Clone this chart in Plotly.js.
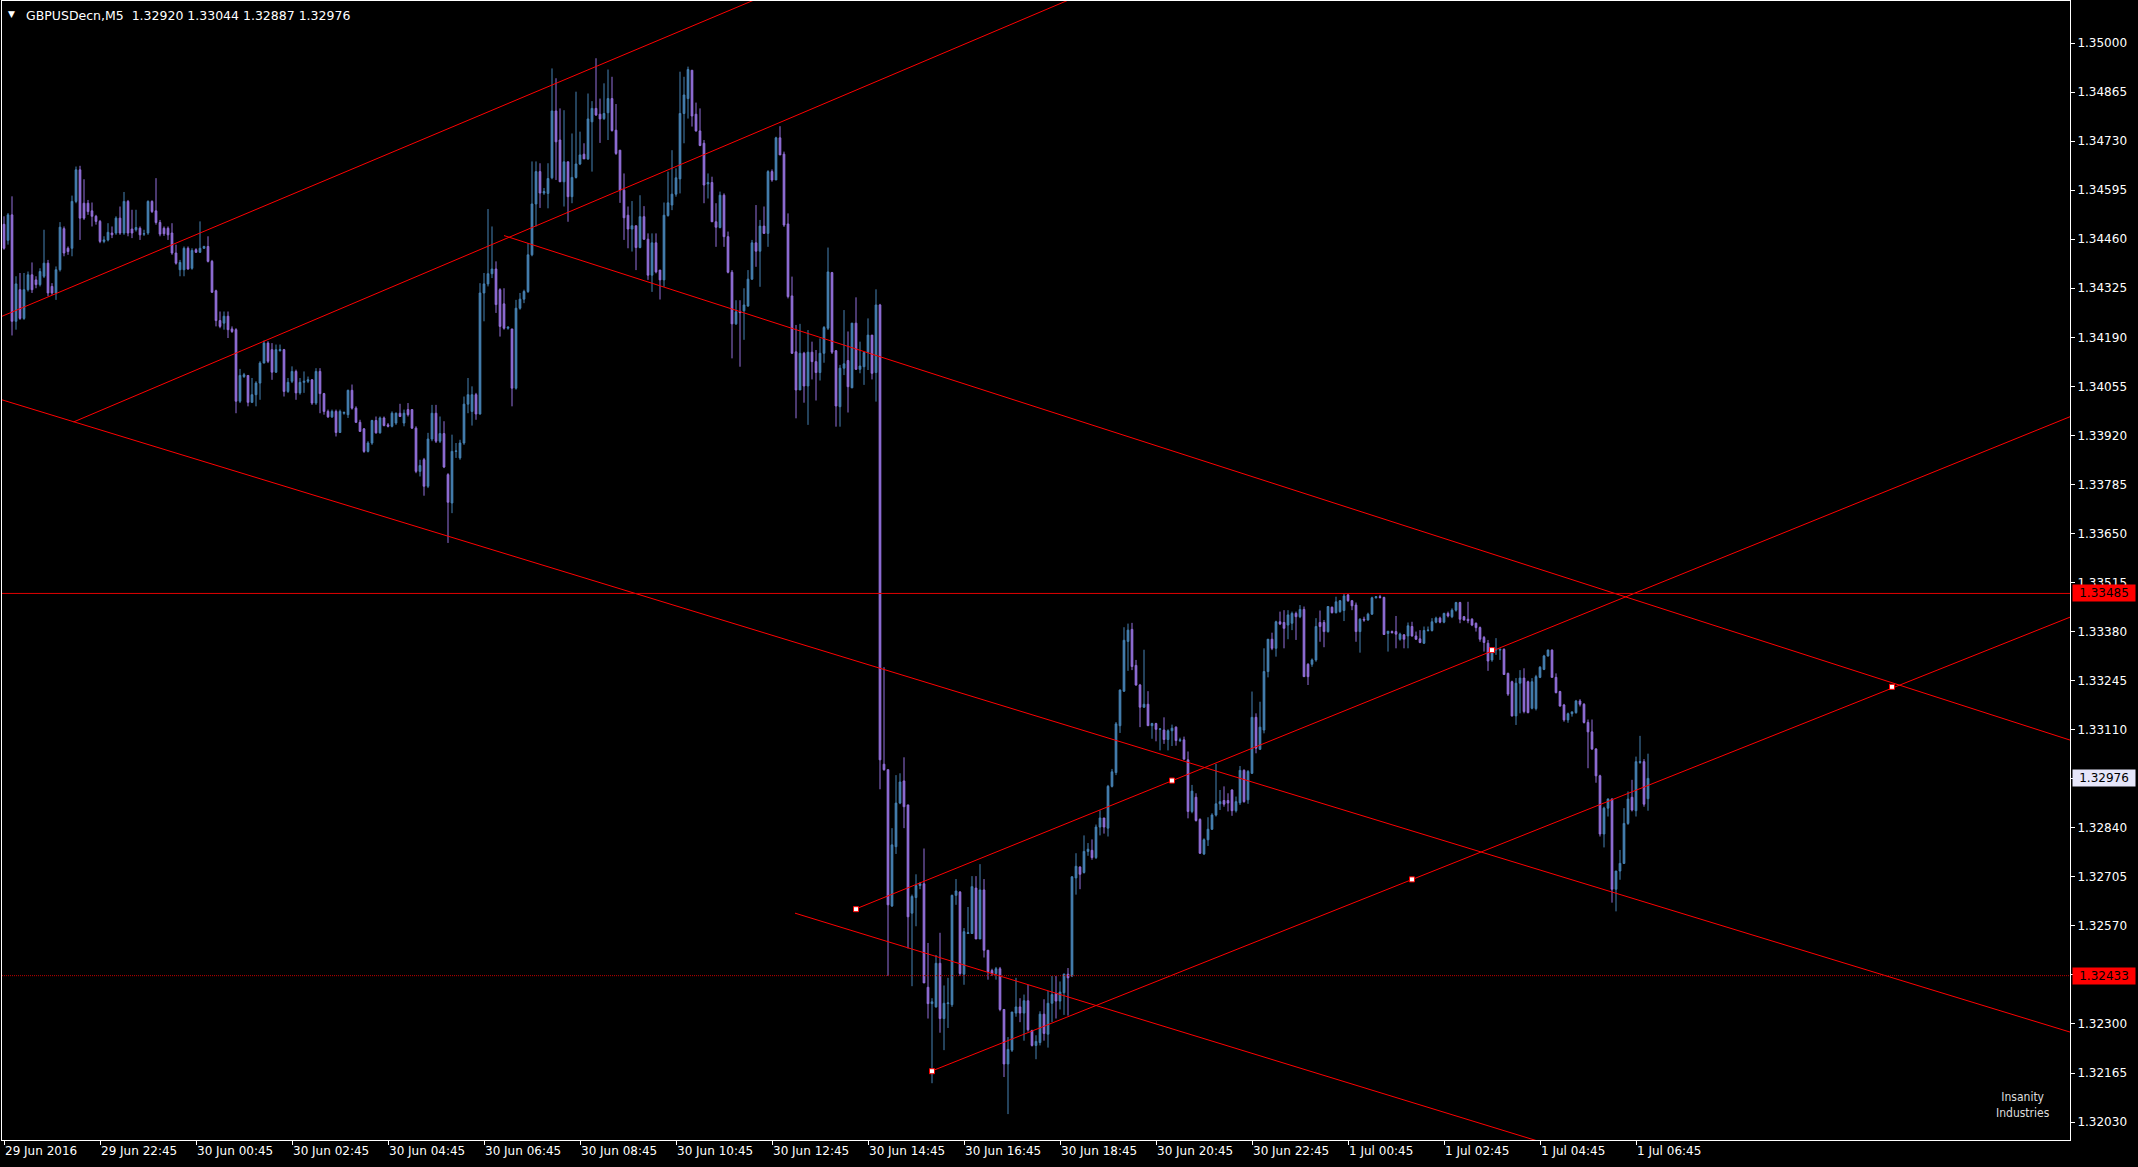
<!DOCTYPE html>
<html><head><meta charset="utf-8">
<script src="https://cdn.plot.ly/plotly-3.0.1.min.js"></script>
<style>html,body{margin:0;padding:0;background:#000;overflow:hidden}#chart{width:2138px;height:1167px}</style>
</head><body><div id="chart"></div>
<script>
// GBPUSDecn M5, bar 0 = 29 Jun 2016 20:45
const openP = [
1.34501,1.34457,1.34527,1.34234,1.34321,1.34242,1.34321,1.34362,1.34348,1.34335,
1.34358,1.34394,1.34330,1.34312,1.34376,1.34489,1.34435,1.34435,1.34564,1.34651,
1.34559,1.34559,1.34538,1.34523,1.34509,1.34454,1.34458,1.34477,1.34477,1.34518,
1.34477,1.34564,1.34488,1.34486,1.34490,1.34474,1.34477,1.34564,1.34538,1.34506,
1.34490,1.34490,1.34477,1.34422,1.34376,1.34376,1.34435,1.34380,1.34431,1.34424,
1.34435,1.34440,1.34399,1.34318,1.34236,1.34229,1.34248,1.34213,1.34211,1.34014,
1.34082,1.34085,1.34011,1.34032,1.34064,1.34119,1.34174,1.34156,1.34094,1.34153,
1.34156,1.34041,1.34069,1.34096,1.34037,1.34066,1.34069,1.34073,1.34009,1.34096,
1.34035,1.33986,1.33971,1.33986,1.33928,1.33981,1.33977,1.34044,1.33995,1.33956,
1.33938,1.33876,1.33899,1.33961,1.33927,1.33968,1.33949,1.33945,1.33954,1.33981,
1.33954,1.33991,1.33991,1.33940,1.33821,1.33853,1.33780,1.33910,1.33981,1.33904,
1.33925,1.33812,1.33734,1.33876,1.33858,1.33899,1.34006,1.33986,1.34032,1.33979,
1.34312,1.34337,1.34365,1.34378,1.34321,1.34282,1.34215,1.34213,1.34050,1.34270,
1.34295,1.34316,1.34417,1.34557,1.34646,1.34587,1.34586,1.34629,1.34813,1.34733,
1.34618,1.34673,1.34577,1.34630,1.34667,1.34694,1.34681,1.34783,1.34820,1.34804,
1.34792,1.34808,1.34847,1.34760,1.34705,1.34595,1.34526,1.34488,1.34497,1.34437,
1.34522,1.34460,1.34361,1.34450,1.34375,1.34348,1.34525,1.34554,1.34584,1.34626,
1.34806,1.34847,1.34925,1.34804,1.34758,1.34724,1.34612,1.34616,1.34508,1.34492,
1.34581,1.34467,1.34369,1.34227,1.34260,1.34263,1.34276,1.34350,1.34450,1.34427,
1.34496,1.34476,1.34646,1.34623,1.34739,1.34694,1.34502,1.34304,1.34150,1.34045,
1.34146,1.34056,1.34149,1.34123,1.34093,1.34146,1.34215,1.34368,1.34153,1.33999,
1.34105,1.34126,1.34051,1.34229,1.34102,1.34109,1.34148,1.34196,1.34093,1.34279,
1.33015,1.33000,1.32625,1.32788,1.32908,1.32969,1.32903,1.32605,1.32648,1.32681,
1.32686,1.32401,1.32356,1.32347,1.32467,1.32315,1.32356,1.32353,1.32654,1.32663,
1.32437,1.32549,1.32549,1.32674,1.32534,1.32669,1.32503,1.32447,1.32439,1.32452,
1.32340,1.32190,1.32228,1.32330,1.32347,1.32330,1.32364,1.32282,1.32241,1.32249,
1.32327,1.32272,1.32357,1.32384,1.32363,1.32386,1.32437,1.32432,1.32702,1.32732,
1.32717,1.32775,1.32778,1.32758,1.32842,1.32867,1.32839,1.32954,1.32992,1.33121,
1.33216,1.33353,1.33386,1.33287,1.33233,1.33172,1.33180,1.33121,1.33127,1.33111,
1.33109,1.33083,1.33107,1.33117,1.33080,1.33082,1.33027,1.32885,1.32924,1.32863,
1.32768,1.32807,1.32836,1.32875,1.32906,1.32915,1.32915,1.32944,1.32887,1.32909,
1.32998,1.32917,1.32990,1.33144,1.33056,1.33109,1.33270,1.33359,1.33334,1.33407,
1.33405,1.33398,1.33403,1.33430,1.33421,1.33441,1.33290,1.33290,1.33302,1.33405,
1.33405,1.33380,1.33447,1.33432,1.33435,1.33438,1.33481,1.33465,1.33453,1.33380,
1.33414,1.33412,1.33428,1.33473,1.33476,1.33474,1.33375,1.33380,1.33380,1.33359,
1.33371,1.33368,1.33394,1.33368,1.33360,1.33348,1.33383,1.33383,1.33406,1.33417,
1.33406,1.33430,1.33421,1.33439,1.33460,1.33421,1.33414,1.33414,1.33403,1.33391,
1.33364,1.33348,1.33302,1.33329,1.33329,1.33331,1.33265,1.33242,1.33148,1.33238,
1.33252,1.33242,1.33169,1.33168,1.33254,1.33276,1.33313,1.33329,1.33254,1.33215,
1.33178,1.33137,1.33154,1.33157,1.33189,1.33180,1.33130,1.33104,1.33057,1.32983,
1.32823,1.32894,1.32919,1.32671,1.32721,1.32742,1.32852,1.32924,1.32887,1.33020,
1.33022,1.32920];
const highP = [
1.34523,1.34532,1.34578,1.34358,1.34367,1.34367,1.34371,1.34396,1.34358,1.34380,
1.34486,1.34403,1.34339,1.34385,1.34507,1.34495,1.34440,1.34580,1.34660,1.34662,
1.34625,1.34568,1.34561,1.34527,1.34513,1.34468,1.34504,1.34495,1.34523,1.34550,
1.34590,1.34568,1.34541,1.34541,1.34495,1.34486,1.34567,1.34567,1.34628,1.34513,
1.34495,1.34495,1.34504,1.34445,1.34403,1.34440,1.34440,1.34435,1.34435,1.34509,
1.34442,1.34468,1.34403,1.34321,1.34261,1.34261,1.34261,1.34220,1.34215,1.34103,
1.34092,1.34085,1.34078,1.34069,1.34124,1.34181,1.34179,1.34174,1.34170,1.34170,
1.34158,1.34078,1.34110,1.34101,1.34078,1.34096,1.34082,1.34075,1.34105,1.34105,
1.34037,1.33991,1.33991,1.33991,1.33991,1.33986,1.34046,1.34060,1.34000,1.33963,
1.33940,1.33904,1.33963,1.33972,1.33972,1.33972,1.33954,1.33986,1.33983,1.34007,
1.33991,1.34009,1.33991,1.33945,1.33853,1.33858,1.33927,1.34004,1.34004,1.33972,
1.33959,1.33816,1.33922,1.33899,1.33908,1.34027,1.34078,1.34055,1.34037,1.34339,
1.34367,1.34543,1.34495,1.34399,1.34325,1.34325,1.34220,1.34213,1.34293,1.34312,
1.34321,1.34449,1.34674,1.34674,1.34669,1.34601,1.34669,1.34930,1.34903,1.34820,
1.34815,1.34673,1.34751,1.34866,1.34756,1.34724,1.34861,1.34840,1.34958,1.34847,
1.34889,1.34927,1.34907,1.34832,1.34705,1.34641,1.34550,1.34565,1.34497,1.34581,
1.34551,1.34476,1.34476,1.34476,1.34375,1.34561,1.34646,1.34705,1.34655,1.34921,
1.34907,1.34935,1.34925,1.34836,1.34820,1.34733,1.34641,1.34632,1.34559,1.34591,
1.34586,1.34481,1.34375,1.34292,1.34292,1.34325,1.34375,1.34458,1.34554,1.34513,
1.34550,1.34650,1.34652,1.34742,1.34771,1.34701,1.34531,1.34357,1.34224,1.34227,
1.34150,1.34210,1.34178,1.34155,1.34187,1.34221,1.34437,1.34370,1.34155,1.34114,
1.34265,1.34206,1.34229,1.34300,1.34178,1.34148,1.34242,1.34196,1.34322,1.34282,
1.33282,1.33000,1.32839,1.32985,1.32990,1.33034,1.32903,1.32656,1.32712,1.32691,
1.32783,1.32523,1.32371,1.32490,1.32551,1.32406,1.32427,1.32656,1.32699,1.32666,
1.32564,1.32622,1.32707,1.32707,1.32740,1.32699,1.32503,1.32452,1.32457,1.32457,
1.32340,1.32264,1.32333,1.32427,1.32371,1.32381,1.32408,1.32284,1.32269,1.32335,
1.32368,1.32391,1.32432,1.32432,1.32417,1.32439,1.32454,1.32707,1.32770,1.32734,
1.32819,1.32798,1.32808,1.32849,1.32888,1.32867,1.32958,1.33002,1.33131,1.33221,
1.33392,1.33402,1.33404,1.33302,1.33236,1.33330,1.33216,1.33129,1.33129,1.33114,
1.33144,1.33111,1.33124,1.33119,1.33088,1.33091,1.33050,1.32958,1.32935,1.32866,
1.32811,1.32869,1.32880,1.33016,1.32944,1.32954,1.32935,1.32946,1.32926,1.33010,
1.33001,1.32999,1.33215,1.33155,1.33187,1.33334,1.33359,1.33377,1.33410,1.33435,
1.33439,1.33439,1.33435,1.33435,1.33453,1.33449,1.33293,1.33306,1.33417,1.33438,
1.33412,1.33449,1.33449,1.33476,1.33467,1.33485,1.33485,1.33467,1.33460,1.33417,
1.33421,1.33432,1.33476,1.33478,1.33481,1.33476,1.33381,1.33383,1.33423,1.33377,
1.33373,1.33405,1.33407,1.33380,1.33384,1.33394,1.33394,1.33417,1.33421,1.33421,
1.33432,1.33435,1.33444,1.33462,1.33462,1.33423,1.33462,1.33417,1.33405,1.33394,
1.33368,1.33357,1.33337,1.33362,1.33334,1.33334,1.33267,1.33245,1.33252,1.33274,
1.33279,1.33245,1.33252,1.33261,1.33285,1.33316,1.33331,1.33331,1.33265,1.33217,
1.33181,1.33157,1.33160,1.33192,1.33194,1.33183,1.33138,1.33138,1.33059,1.32986,
1.32898,1.32921,1.32921,1.32721,1.32779,1.32894,1.32940,1.32972,1.33036,1.33093,
1.33029,1.33044];
const lowP = [
1.34431,1.34445,1.34195,1.34211,1.34238,1.34238,1.34316,1.34312,1.34325,1.34330,
1.34353,1.34303,1.34307,1.34293,1.34371,1.34413,1.34417,1.34413,1.34559,1.34458,
1.34513,1.34527,1.34495,1.34500,1.34449,1.34449,1.34454,1.34463,1.34472,1.34472,
1.34472,1.34468,1.34463,1.34481,1.34458,1.34469,1.34472,1.34532,1.34500,1.34468,
1.34469,1.34458,1.34417,1.34390,1.34358,1.34358,1.34376,1.34376,1.34422,1.34422,
1.34433,1.34396,1.34312,1.34220,1.34215,1.34211,1.34188,1.34202,1.33981,1.34009,
1.34078,1.34000,1.34009,1.34000,1.34018,1.34119,1.34119,1.34073,1.34092,1.34151,
1.34027,1.34037,1.34064,1.34018,1.34032,1.34037,1.34064,1.34004,1.34004,1.33981,
1.33977,1.33968,1.33968,1.33917,1.33927,1.33977,1.33968,1.33991,1.33954,1.33931,
1.33872,1.33873,1.33894,1.33925,1.33925,1.33945,1.33942,1.33942,1.33949,1.33971,
1.33945,1.33972,1.33938,1.33816,1.33807,1.33754,1.33775,1.33904,1.33899,1.33899,
1.33830,1.33624,1.33706,1.33858,1.33853,1.33894,1.33981,1.33947,1.33963,1.33977,
1.34234,1.34330,1.34353,1.34257,1.34192,1.34211,1.34211,1.34000,1.34046,1.34266,
1.34284,1.34312,1.34413,1.34495,1.34546,1.34582,1.34545,1.34625,1.34623,1.34618,
1.34550,1.34508,1.34559,1.34627,1.34664,1.34681,1.34678,1.34646,1.34799,1.34725,
1.34788,1.34733,1.34756,1.34692,1.34560,1.34458,1.34435,1.34426,1.34375,1.34435,
1.34458,1.34348,1.34315,1.34366,1.34294,1.34329,1.34522,1.34540,1.34577,1.34586,
1.34724,1.34792,1.34770,1.34756,1.34716,1.34559,1.34572,1.34508,1.34439,1.34490,
1.34439,1.34366,1.34132,1.34224,1.34109,1.34183,1.34274,1.34348,1.34384,1.34329,
1.34476,1.34439,1.34618,1.34623,1.34692,1.34494,1.34297,1.34144,1.33967,1.34045,
1.34010,1.33949,1.34074,1.34016,1.34071,1.34120,1.34210,1.34144,1.33944,1.33944,
1.34086,1.33983,1.34050,1.34100,1.34091,1.34059,1.34100,1.34074,1.34013,1.32946,
1.32997,1.32432,1.32622,1.32768,1.32905,1.32839,1.32508,1.32404,1.32569,1.32671,
1.32413,1.32315,1.32137,1.32345,1.32276,1.32228,1.32289,1.32347,1.32628,1.32432,
1.32408,1.32549,1.32549,1.32534,1.32534,1.32483,1.32422,1.32432,1.32422,1.32335,
1.32154,1.32052,1.32223,1.32320,1.32305,1.32254,1.32279,1.32238,1.32203,1.32241,
1.32254,1.32235,1.32305,1.32315,1.32340,1.32325,1.32323,1.32429,1.32656,1.32671,
1.32714,1.32763,1.32752,1.32754,1.32819,1.32824,1.32816,1.32951,1.32985,1.33101,
1.33214,1.33272,1.33274,1.33231,1.33117,1.33170,1.33121,1.33085,1.33078,1.33053,
1.33071,1.33053,1.33065,1.33066,1.33076,1.33027,1.32866,1.32880,1.32857,1.32768,
1.32765,1.32790,1.32834,1.32871,1.32889,1.32898,1.32885,1.32873,1.32882,1.32903,
1.32909,1.32906,1.32988,1.33045,1.33054,1.33100,1.33254,1.33329,1.33311,1.33398,
1.33334,1.33359,1.33384,1.33357,1.33417,1.33256,1.33233,1.33283,1.33297,1.33352,
1.33337,1.33377,1.33430,1.33430,1.33432,1.33409,1.33462,1.33439,1.33352,1.33322,
1.33407,1.33410,1.33426,1.33471,1.33471,1.33371,1.33325,1.33375,1.33334,1.33355,
1.33334,1.33334,1.33366,1.33357,1.33348,1.33346,1.33380,1.33380,1.33403,1.33403,
1.33403,1.33419,1.33417,1.33435,1.33403,1.33410,1.33403,1.33395,1.33380,1.33352,
1.33325,1.33272,1.33297,1.33316,1.33302,1.33261,1.33203,1.33146,1.33123,1.33155,
1.33155,1.33155,1.33166,1.33163,1.33252,1.33274,1.33311,1.33254,1.33210,1.33174,
1.33132,1.33129,1.33146,1.33154,1.33174,1.33127,1.33004,1.33054,1.32964,1.32816,
1.32786,1.32871,1.32634,1.32610,1.32697,1.32741,1.32848,1.32885,1.32871,1.33016,
1.32898,1.32887];
const closeP = [
1.34435,1.34527,1.34234,1.34337,1.34242,1.34321,1.34362,1.34321,1.34335,1.34371,
1.34394,1.34312,1.34312,1.34376,1.34493,1.34422,1.34426,1.34564,1.34651,1.34518,
1.34518,1.34536,1.34523,1.34509,1.34454,1.34458,1.34479,1.34472,1.34518,1.34477,
1.34564,1.34477,1.34477,1.34492,1.34472,1.34475,1.34564,1.34536,1.34506,1.34474,
1.34475,1.34472,1.34422,1.34394,1.34396,1.34435,1.34378,1.34429,1.34424,1.34435,
1.34440,1.34399,1.34314,1.34236,1.34220,1.34248,1.34211,1.34206,1.34014,1.34085,
1.34087,1.34011,1.34032,1.34064,1.34119,1.34174,1.34124,1.34094,1.34156,1.34156,
1.34041,1.34066,1.34096,1.34037,1.34066,1.34069,1.34073,1.34009,1.34096,1.34035,
1.33986,1.33971,1.33986,1.33928,1.33986,1.33983,1.34044,1.33995,1.33956,1.33931,
1.33876,1.33899,1.33961,1.33927,1.33968,1.33947,1.33945,1.33981,1.33981,1.33972,
1.33981,1.33977,1.33940,1.33821,1.33837,1.33780,1.33910,1.33981,1.33904,1.33925,
1.33833,1.33736,1.33876,1.33877,1.33899,1.34006,1.34032,1.34032,1.33979,1.34312,
1.34337,1.34365,1.34378,1.34280,1.34220,1.34215,1.34218,1.34050,1.34270,1.34295,
1.34316,1.34417,1.34557,1.34646,1.34587,1.34591,1.34627,1.34813,1.34728,1.34618,
1.34673,1.34577,1.34630,1.34667,1.34692,1.34681,1.34791,1.34820,1.34802,1.34791,
1.34806,1.34847,1.34759,1.34696,1.34595,1.34519,1.34488,1.34497,1.34437,1.34522,
1.34460,1.34361,1.34450,1.34370,1.34348,1.34526,1.34560,1.34584,1.34629,1.34806,
1.34857,1.34927,1.34799,1.34758,1.34718,1.34609,1.34616,1.34508,1.34493,1.34581,
1.34467,1.34369,1.34227,1.34260,1.34258,1.34279,1.34350,1.34450,1.34427,1.34496,
1.34476,1.34646,1.34623,1.34739,1.34692,1.34499,1.34302,1.34146,1.34045,1.34146,
1.34056,1.34149,1.34123,1.34093,1.34146,1.34217,1.34370,1.34149,1.34001,1.34105,
1.34117,1.34054,1.34229,1.34102,1.34111,1.34148,1.34196,1.34091,1.34279,1.33027,
1.33000,1.32628,1.32793,1.32908,1.32966,1.32898,1.32595,1.32651,1.32681,1.32686,
1.32413,1.32356,1.32361,1.32467,1.32315,1.32357,1.32358,1.32654,1.32666,1.32439,
1.32554,1.32551,1.32678,1.32534,1.32669,1.32503,1.32444,1.32439,1.32452,1.32340,
1.32190,1.32230,1.32333,1.32347,1.32330,1.32364,1.32284,1.32241,1.32252,1.32327,
1.32274,1.32357,1.32381,1.32363,1.32388,1.32437,1.32427,1.32705,1.32734,1.32712,
1.32775,1.32781,1.32758,1.32842,1.32867,1.32842,1.32954,1.32994,1.33126,1.33219,
1.33356,1.33384,1.33284,1.33233,1.33172,1.33180,1.33121,1.33127,1.33111,1.33112,
1.33083,1.33107,1.33114,1.33080,1.33082,1.33029,1.32885,1.32941,1.32860,1.32770,
1.32807,1.32836,1.32875,1.32906,1.32912,1.32905,1.32908,1.32887,1.32912,1.32998,
1.32912,1.32995,1.33144,1.33059,1.33117,1.33270,1.33359,1.33334,1.33407,1.33401,
1.33389,1.33426,1.33430,1.33421,1.33441,1.33256,1.33256,1.33302,1.33394,1.33394,
1.33380,1.33449,1.33432,1.33462,1.33465,1.33478,1.33465,1.33451,1.33380,1.33414,
1.33412,1.33428,1.33473,1.33476,1.33474,1.33372,1.33381,1.33377,1.33373,1.33373,
1.33359,1.33396,1.33368,1.33359,1.33350,1.33383,1.33384,1.33407,1.33417,1.33406,
1.33430,1.33423,1.33439,1.33460,1.33414,1.33412,1.33410,1.33398,1.33391,1.33359,
1.33350,1.33299,1.33331,1.33331,1.33331,1.33262,1.33208,1.33148,1.33238,1.33252,
1.33160,1.33157,1.33242,1.33256,1.33282,1.33313,1.33329,1.33254,1.33212,1.33175,
1.33137,1.33154,1.33159,1.33189,1.33180,1.33130,1.33104,1.33057,1.32983,1.32823,
1.32894,1.32919,1.32671,1.32721,1.32742,1.32852,1.32919,1.32889,1.33022,1.33022,
1.32905,1.32976];

const timeTickBars = [0,24,48,72,96,120,144,168,192,216,240,264,288,312,336,360,384,408];
const timeTickLabels = ["29 Jun 2016","29 Jun 22:45","30 Jun 00:45","30 Jun 02:45","30 Jun 04:45","30 Jun 06:45","30 Jun 08:45","30 Jun 10:45","30 Jun 12:45","30 Jun 14:45","30 Jun 16:45","30 Jun 18:45","30 Jun 20:45","30 Jun 22:45","1 Jul 00:45","1 Jul 02:45","1 Jul 04:45","1 Jul 06:45"];
const priceTicks = [1.35000,1.34865,1.34730,1.34595,1.34460,1.34325,1.34190,1.34055,1.33920,1.33785,1.33650,1.33515,1.33380,1.33245,1.33110,1.32975,1.32840,1.32705,1.32570,1.32435,1.32300,1.32165,1.32030];

// trend lines: start bar, start price, end bar, end price
const lineStartBar   = [-5, 17.4, -5, 125, 197.75, 212.8, 231.8];
const lineStartPrice = [1.34227, 1.33957, 1.34033, 1.34470, 1.32605, 1.32616, 1.32170];
const lineEndBar     = [200, 280, 520, 520, 400, 520, 520];
const lineEndPrice   = [1.35176, 1.35183, 1.32266, 1.33069, 1.31922, 1.33987, 1.33435];
// horizontal levels
const levelPrices = [1.33485, 1.32433];
// anchor points drawn on the channels
const anchorBars   = [213, 292, 372, 232, 352, 472];
const anchorPrices = [1.32616, 1.32970, 1.33329, 1.32170, 1.32698, 1.33228];
const symbolName = "GBPUSDecn,M5";
const lastBar = {o:1.32920, h:1.33044, l:1.32887, c:1.32976};

const bars = openP.map((_, i) => i);
const FONT = "DejaVu Sans, Verdana, sans-serif";

const lx = [], ly = [];
for (let k = 0; k < lineStartBar.length; k++) {
  lx.push(lineStartBar[k], lineEndBar[k], null);
  ly.push(lineStartPrice[k], lineEndPrice[k], null);
}

const traces = [
  {type:'candlestick', x:bars, open:openP, high:highP, low:lowP, close:closeP,
   increasing:{line:{color:'#4682B4', width:1}, fillcolor:'#4682B4'},
   decreasing:{line:{color:'#9370DB', width:1}, fillcolor:'#9370DB'},
   whiskerwidth:0, hoverinfo:'skip', showlegend:false},
  {type:'scatter', mode:'lines', x:lx, y:ly, line:{color:'#FF0000', width:1},
   hoverinfo:'skip', showlegend:false, connectgaps:false},
  {type:'scatter', mode:'markers', x:anchorBars, y:anchorPrices,
   marker:{symbol:'square', size:5, color:'#FFFFFF', line:{color:'#FF0000', width:1}},
   hoverinfo:'skip', showlegend:false}
];

const shapes = [
  {type:'line', xref:'paper', x0:0, x1:1, yref:'y', y0:levelPrices[0], y1:levelPrices[0],
   line:{color:'#E00000', width:1}, layer:'above'},
  {type:'line', xref:'paper', x0:0, x1:1, yref:'y', y0:levelPrices[1], y1:levelPrices[1],
   line:{color:'#C00000', width:1, dash:'1px,1px'}, layer:'above'}
];

function priceBox(p, bg) {
  return {xref:'paper', x:1, xanchor:'left', xshift:2, yref:'y', y:p, yanchor:'middle',
    text:p.toFixed(5), showarrow:false, bgcolor:bg, borderpad:0, width:62, height:16, align:'center',
    font:{family:FONT, size:12, color:'#000000'}};
}

const annotations = [
  {xref:'paper', yref:'paper', x:0, y:1, xanchor:'left', yanchor:'top', xshift:4, yshift:-6,
   text:'▼', showarrow:false, font:{family:FONT, size:9, color:'#FFFFFF'}},
  {xref:'paper', yref:'paper', x:0, y:1, xanchor:'left', yanchor:'top', xshift:22, yshift:-5,
   text: symbolName + '\u00a0\u00a0' + [lastBar.o, lastBar.h, lastBar.l, lastBar.c].map(v => v.toFixed(5)).join('\u00a0'),
   showarrow:false, font:{family:FONT, size:12.5, color:'#FFFFFF'}},
  priceBox(levelPrices[0], '#FF0000'),
  priceBox(levelPrices[1], '#FF0000'),
  priceBox(lastBar.c, '#E6E6FA'),
  {xref:'paper', yref:'paper', x:1, y:0, xanchor:'right', yanchor:'bottom', xshift:-18, yshift:18,
   text:'Insanity<br>Industries', align:'center', showarrow:false,
   font:{family:'DejaVu Sans Condensed, DejaVu Sans, sans-serif', size:12, color:'#DDDDDD'}}
];

const layout = {
  width:2138, height:1167, paper_bgcolor:'#000000', plot_bgcolor:'#000000',
  margin:{l:2, r:68, t:1, b:27}, showlegend:false, hovermode:false,
  xaxis:{range:[-0.5, 516.5], tickmode:'array', tickvals:timeTickBars, ticktext:timeTickLabels,
    ticks:'outside', ticklen:4, tickcolor:'#FFFFFF', ticklabelposition:'outside right',
    showline:true, linecolor:'#FFFFFF', linewidth:1, mirror:true,
    showgrid:false, zeroline:false, rangeslider:{visible:false}, fixedrange:true,
    tickfont:{family:FONT, size:12, color:'#FFFFFF'}},
  yaxis:{side:'right', range:[1.319807, 1.351156], tickmode:'array', tickvals:priceTicks,
    ticktext:priceTicks.map(v => v.toFixed(5)),
    ticks:'outside', ticklen:4, tickcolor:'#FFFFFF',
    showline:true, linecolor:'#FFFFFF', linewidth:1, mirror:true,
    showgrid:false, zeroline:false, fixedrange:true,
    tickfont:{family:FONT, size:12, color:'#FFFFFF'}},
  boxgap:0.4,
  shapes: shapes,
  annotations: annotations
};

Plotly.newPlot('chart', traces, layout, {displayModeBar:false, staticPlot:true});
</script>
</body></html>
